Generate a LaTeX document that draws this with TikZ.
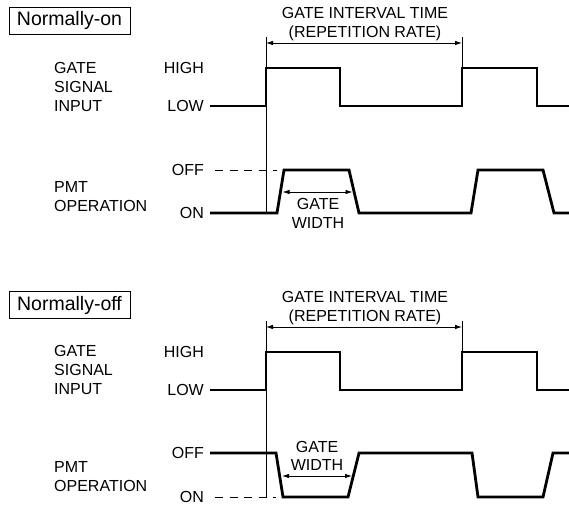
\documentclass[tikz,border=0pt]{standalone}
\usepackage{fontspec}
\setmainfont{Liberation Sans}
\usetikzlibrary{arrows.meta}
\begin{document}
\begin{tikzpicture}[x=1pt,y=-1pt,
  lbl/.style={font=\fontsize{16}{19}\selectfont, inner sep=0pt, text height=11.5pt, text depth=0pt},
  mlbl/.style={font=\fontsize{16}{19}\selectfont, inner sep=0pt, align=left},
  clbl/.style={font=\fontsize{16}{18.5}\selectfont, inner sep=0pt, align=center},
  titlebox/.style={draw, line width=0.8pt, font=\fontsize{19.5}{22}\selectfont, minimum width=121pt, minimum height=27pt, inner sep=0pt},
  wave/.style={line width=2.8pt, line join=miter, line cap=butt},
  guide/.style={line width=0.8pt},
  dashline/.style={line width=0.8pt, dash pattern=on 8pt off 6.5pt},
  dimarrow/.style={line width=0.8pt, {Latex[length=7pt,width=4.5pt]}-{Latex[length=7pt,width=4.5pt]}}
]
\useasboundingbox (0,0) rectangle (569,505);

% ===== Normally-on =====
\node[titlebox] (t1) at (69.5,20.5) {Normally-on};
\node[clbl] (int1) at (365,24) {GATE INTERVAL TIME\\(REPETITION RATE)};
\node[mlbl, anchor=west] (gsi1) at (54,87) {GATE\\SIGNAL\\INPUT};
\node[mlbl, anchor=west] (pmt1) at (54,196.5) {PMT\\OPERATION};
\node[lbl, anchor=east] (high1) at (204,68) {HIGH};
\node[lbl, anchor=east] (low1) at (204,106) {LOW};
\node[lbl, anchor=east] (off1) at (204,170) {OFF};
\node[lbl, anchor=east] (on1) at (204,213) {ON};
\node[clbl] (gw1) at (318,213.5) {GATE\\WIDTH};

\coordinate (a1) at (266,37);
\coordinate (a1b) at (266,213);
\coordinate (b1) at (462,37);
\coordinate (b1b) at (462,68);
\draw[guide] (a1) -- (a1b);
\draw[guide] (b1) -- (b1b);
\draw[dimarrow] (266,43) -- (462,43);

\draw[wave] (210,106) -- (266,106) -- (266,68) -- (340,68) -- (340,106) -- (462,106) -- (462,68) -- (537,68) -- (537,106) -- (569,106);
\draw[wave] (210,213) -- (277,213) -- (284,170) -- (349,170) -- (359,213) -- (471,213) -- (478,170) -- (543,170) -- (554,213) -- (569,213);
\draw[dashline] (215,170) -- (277,170);
\draw[dimarrow] (282.5,192) -- (352.5,192);

% ===== Normally-off =====
\node[titlebox] (t2) at (69.5,305) {Normally-off};
\node[clbl] (int2) at (365,308) {GATE INTERVAL TIME\\(REPETITION RATE)};
\node[mlbl, anchor=west] (gsi2) at (54,370) {GATE\\SIGNAL\\INPUT};
\node[mlbl, anchor=west] (pmt2) at (54,476.5) {PMT\\OPERATION};
\node[lbl, anchor=east] (high2) at (204,352) {HIGH};
\node[lbl, anchor=east] (low2) at (204,390) {LOW};
\node[lbl, anchor=east] (off2) at (204,453) {OFF};
\node[lbl, anchor=east] (on2) at (204,497) {ON};
\node[clbl] (gw2) at (317,456) {GATE\\WIDTH};

\coordinate (a2) at (266,321);
\coordinate (a2b) at (266,497);
\coordinate (b2) at (462,321);
\coordinate (b2b) at (462,352);
\draw[guide] (a2) -- (a2b);
\draw[guide] (b2) -- (b2b);
\draw[dimarrow] (266,327) -- (462,327);

\draw[wave] (210,390) -- (266,390) -- (266,352) -- (340,352) -- (340,390) -- (462,390) -- (462,352) -- (537,352) -- (537,390) -- (569,390);
\draw[wave] (210,453) -- (276,453) -- (283,497) -- (348,497) -- (359,453) -- (472,453) -- (478,497) -- (543,497) -- (553,453) -- (569,453);
\draw[dashline] (215,497) -- (276,497);
\draw[dimarrow] (282,476) -- (352,476);
\end{tikzpicture}
\end{document}
